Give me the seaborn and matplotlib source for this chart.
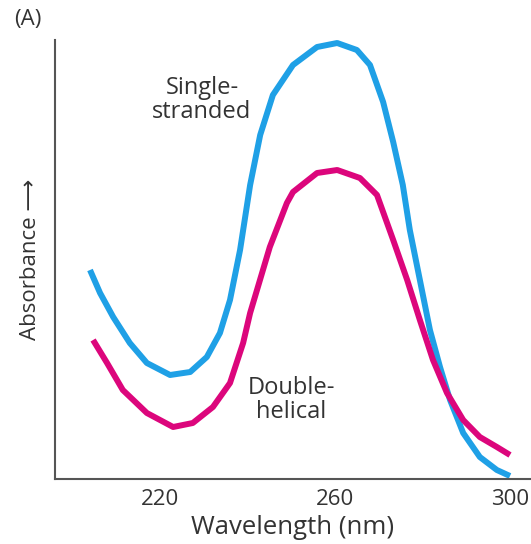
import matplotlib
matplotlib.use("Agg")
import matplotlib.pyplot as plt
import seaborn as sns
import pandas as pd

# Absorbance spectra of DNA (arbitrary units)
ss_wavelength = [204.0, 206.3, 209.3, 213.1, 217.0, 222.3, 226.9, 230.7, 233.7, 236.0,
                 238.3, 240.6, 242.9, 245.8, 250.4, 255.9, 260.5, 265.0, 268.0, 271.0,
                 273.3, 275.5, 277.1, 279.4, 281.7, 284.0, 286.3, 289.3, 293.1, 297.0,
                 300.0]
ss_absorbance = [209, 186, 162, 136, 116, 104, 107, 122, 146, 179,
                 229, 294, 344, 384, 414, 432, 436, 429, 414, 377,
                 337, 294, 249, 199, 149, 112, 79, 46, 22, 9,
                 3]

ds_wavelength = [204.7, 207.9, 211.5, 217.0, 223.0, 227.5, 232.1, 236.0, 239.0, 240.6,
                 245.1, 249.0, 250.4, 255.9, 260.5, 265.7, 269.6, 273.3, 276.5, 279.4,
                 282.4, 285.6, 289.3, 293.1, 297.0, 300.0]
ds_absorbance = [139, 116, 89, 66, 52, 56, 72, 96, 136, 166,
                 232, 276, 287, 306, 309, 301, 284, 239, 199, 159,
                 119, 86, 59, 42, 32, 24]

x_ticks = [220, 260, 300]

df = pd.concat([
    pd.DataFrame({"wavelength": ss_wavelength, "absorbance": ss_absorbance, "form": "single"}),
    pd.DataFrame({"wavelength": ds_wavelength, "absorbance": ds_absorbance, "form": "double"}),
], ignore_index=True)

sns.set_theme(style="white")
plt.rcParams['font.family'] = ['Open Sans', 'DejaVu Sans']
TEXT = "#333333"
AXIS = "#555555"

fig = plt.figure(figsize=(5.31, 5.44), dpi=100)
ax = fig.add_axes([55 / 531, 65 / 544, 476 / 531, 439 / 544])

sns.lineplot(data=df, x="wavelength", y="absorbance", hue="form", sort=False,
             palette={"single": "#1fa0e6", "double": "#dc067c"},
             linewidth=4.3, legend=False, ax=ax, estimator=None)
for ln in ax.lines:
    ln.set_solid_capstyle("butt")
    ln.set_solid_joinstyle("round")

ax.set_xlim(196, 304.8)
ax.set_ylim(0, 439)
ax.set_xticks(x_ticks)
ax.set_xticklabels([str(t) for t in x_ticks])
ax.set_yticks([])
ax.tick_params(axis="x", direction="in", length=11, width=1.3, color=AXIS,
               labelsize=16, labelcolor=TEXT, pad=7)
sns.despine(ax=ax, top=True, right=True)
for side in ("left", "bottom"):
    ax.spines[side].set_color(AXIS)
    ax.spines[side].set_linewidth(1.5)

ax.set_xlabel("Wavelength (nm)", fontsize=18.5, color=TEXT, labelpad=4)
ax.set_ylabel("Absorbance \u27f6", fontsize=16, color=TEXT, labelpad=10)

ax.text(229.6, 379, "Single-\nstranded", ha="center", va="center", fontsize=17,
        color=TEXT, linespacing=1.0)
ax.text(250, 79, "Double-\nhelical", ha="center", va="center", fontsize=17,
        color=TEXT, linespacing=1.0)
fig.text(28 / 531, 1 - 19 / 544, "(A)", ha="center", va="center", fontsize=16, color=TEXT)

fig.savefig("out.png", dpi=100)
